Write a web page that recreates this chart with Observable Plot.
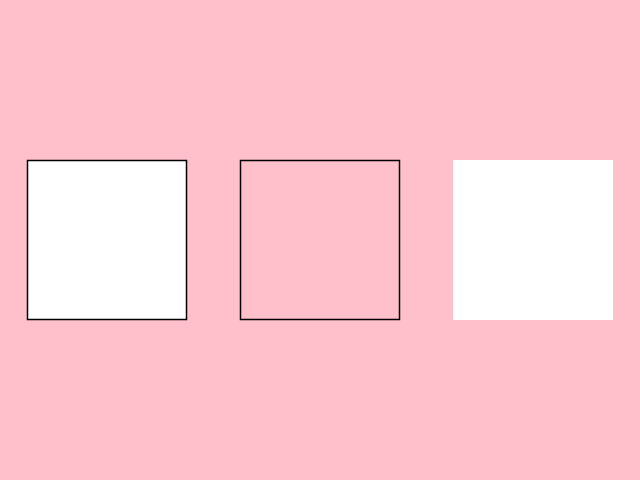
<!DOCTYPE html>
<html>
<head>
<meta charset="utf-8">
<script src="https://cdn.jsdelivr.net/npm/d3@7"></script>
<script src="https://cdn.jsdelivr.net/npm/@observablehq/plot@0.6"></script>
<style>
  html, body { margin: 0; padding: 0; background: pink; }
</style>
</head>
<body>
<div id="chart"></div>
<script>
// three squares, in pixel-like data units
const names = ["filled+stroked", "stroked", "filled"];
const leftEdges = [27.5, 240.5, 453];
const rightEdges = [186.5, 399.5, 613];
const topEdges = [160.5, 160.5, 160];
const bottomEdges = [319.5, 319.5, 320];
const fills = ["white", "none", "white"];
const strokes = ["black", "black", "none"];

const squares = names.map((name, i) => ({
  name, x1: leftEdges[i], x2: rightEdges[i], y1: topEdges[i], y2: bottomEdges[i],
  fill: fills[i], stroke: strokes[i]
}));

const chart = Plot.plot({
  width: 640,
  height: 480,
  margin: 0,
  style: { background: "pink" },
  x: { domain: [0, 640], range: [0, 640], axis: null },
  y: { domain: [0, 480], range: [0, 480], axis: null },
  marks: [
    Plot.rect(squares, {
      x1: "x1", x2: "x2", y1: "y1", y2: "y2",
      fill: d => d.fill, stroke: d => d.stroke, strokeWidth: 1.5
    })
  ]
});

document.getElementById("chart").appendChild(chart);
</script>
</body>
</html>
